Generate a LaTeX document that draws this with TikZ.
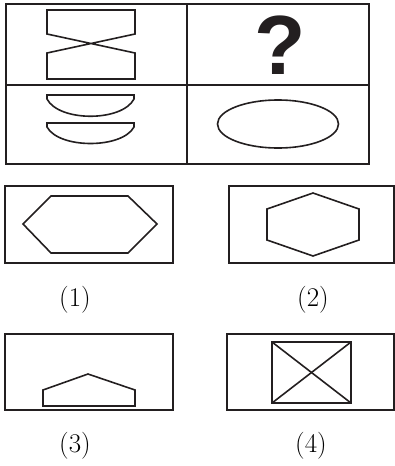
\documentclass[tikz,border=0pt]{standalone}
\usepackage{fontspec}
\newfontfamily\qmfont{Liberation Sans}
\usetikzlibrary{calc}
\definecolor{ink}{HTML}{231F20}

\begin{document}
\begin{tikzpicture}[x=1pt, y=-1pt,
    frame/.style={draw=ink, line width=2pt},
    figline/.style={draw=ink, line width=1.6pt, line join=miter},
    optlabel/.style={anchor=base, inner sep=0pt, font=\fontsize{27}{30}\selectfont}]
  \useasboundingbox (0,0) rectangle (395,466);
  % question grid
  \coordinate (gTL) at (6,4);
  \coordinate (gBR) at (369,164);
  \draw[frame] (gTL) rectangle (gBR);
  \draw[frame] (187,4) -- (187,164);
  \draw[frame] (6,85) -- (369,85);
  \draw[figline] (47,10) -- (135,10) -- (135,34) -- (47,53) -- (47,79)
    -- (135,79) -- (135,53) -- (47,34) -- cycle;
  \node[anchor=base, inner sep=0pt, text=ink] (qmark) at (280,74)
    {\fontsize{84}{90}\qmfont\bfseries ?};
  \draw[figline] (47,95) -- (134,95) -- (134,99)
    .. controls (122,122) and (59,122) .. (47,99) -- cycle;
  \draw[figline] (47,123) -- (134,123) -- (134,127)
    .. controls (122,149) and (59,149) .. (47,127) -- cycle;
  \draw[figline] (278,124) ellipse [x radius=60.5, y radius=24];
  % option (1)
  \draw[frame] (5,186) rectangle (173,263);
  \draw[figline] (23,224) -- (51,196) -- (128,196) -- (157,224)
    -- (128,253) -- (51,253) -- cycle;
  \node[optlabel] (lab1) at (75,306) {(1)};
  % option (2)
  \draw[frame] (229,186) rectangle (394,263);
  \draw[figline] (313,193) -- (359,209) -- (359,240) -- (313,256)
    -- (267,240) -- (267,209) -- cycle;
  \node[optlabel] (lab2) at (313,306) {(2)};
  % option (3)
  \draw[frame] (5,334) rectangle (173,410);
  \draw[figline] (43,406) -- (43,390) -- (88,374) -- (135,390)
    -- (135,406) -- cycle;
  \node[optlabel] (lab3) at (75,452) {(3)};
  % option (4)
  \draw[frame] (227,334) rectangle (394,410);
  \coordinate (sqA) at (272,342);
  \coordinate (sqB) at (351,403);
  \draw[figline] (sqA) rectangle (sqB);
  \draw[figline] (sqA) -- (sqB);
  \draw[figline] (sqA |- sqB) -- (sqB |- sqA);
  \node[optlabel] (lab4) at (311,452) {(4)};
\end{tikzpicture}
\end{document}
